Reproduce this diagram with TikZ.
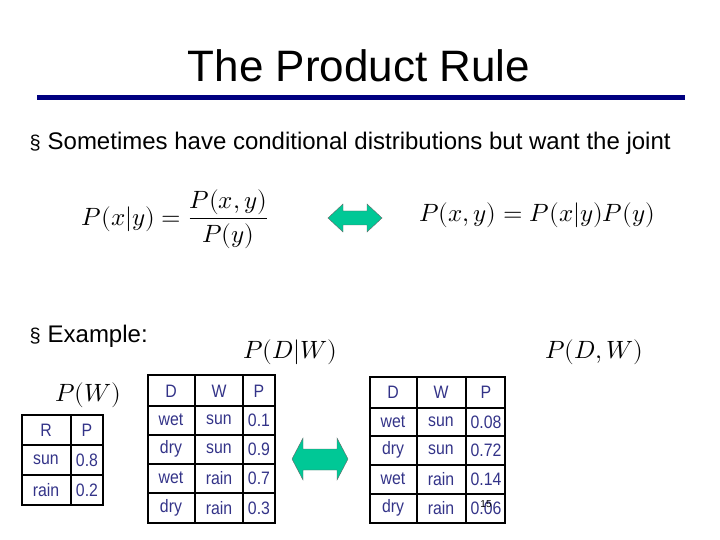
\documentclass[tikz,border=0pt]{standalone}
\usepackage{fontspec}
\setmainfont{Liberation Sans}
\usepackage{amsmath}
\usepackage{unicode-math}
\setmathfont{Latin Modern Math}
\definecolor{tblue}{HTML}{333388}
\definecolor{navy}{HTML}{000080}
\definecolor{teal}{HTML}{00C896}
\begin{document}
\begin{tikzpicture}[x=1pt,y=-1pt,
  cell/.style={font=\fontsize{18}{20}\selectfont, text=tblue, xscale=0.88, transform shape},
  grid/.style={line width=2pt,black},
  txt/.style={font=\fontsize{24}{28}\selectfont, anchor=west},
  mth/.style={font=\fontsize{25}{30}\selectfont}]
\useasboundingbox (0,0) rectangle (720,540);
\node (title) at (359,66) {\fontsize{44}{50}\selectfont The Product Rule};
\draw[navy,line width=5pt] (37,98) coordinate (l1) -- (685,98) coordinate (l2);
\node[txt] (b1) at (26,143) {\fontsize{20}{22}\selectfont§\hspace{7pt}\fontsize{24}{28}\selectfont Sometimes have conditional distributions but want the joint};
\node[mth] (f1) at (175,219) {$P(x|y)=\dfrac{P(x,y)}{P(y)}$};
\node[mth] (f2) at (537,215) {$P(x,y)=P(x|y)P(y)$};
\node[txt] (b2) at (26,336) {\fontsize{20}{22}\selectfont§\hspace{7pt}\fontsize{24}{28}\selectfont Example:};
\node[mth] (pdw) at (290,352) {$P(D|W)$};
\node[mth] (pdw2) at (594,352) {$P(D,W)$};
\node[mth] (pw) at (88,395) {$P(W)$};
% arrows
\fill[teal,draw=black!60,line width=0.4pt] (328,218) -- (343,204) -- (343,211) -- (367,211) -- (367,204) -- (382,218) -- (367,232) -- (367,225) -- (343,225) -- (343,232) -- cycle;
\fill[teal,draw=black!60,line width=0.4pt] (292,459) -- (303,438) -- (303,449) -- (337,449) -- (337,438) -- (348,459) -- (337,480) -- (337,470) -- (303,470) -- (303,480) -- cycle;
% table P(W)
\draw[grid] (22,415) rectangle (103,505);
\draw[grid] (71,415) -- (71,505) (22,445) -- (103,445) (22,475) -- (103,475);
\foreach \r/\y in {R/430,sun/460,rain/490} \node[cell] at (46,\y) {\r};
\foreach \r/\y in {P/430,0.8/460,0.2/490} \node[cell] at (87,\y) {\r};
% middle table
\draw[grid] (148,375) rectangle (275,523);
\draw[grid] (195,375) -- (195,523) (243,375) -- (243,523);
\foreach \y in {406,435,464,493} \draw[grid] (148,\y) -- (275,\y);
\foreach \a/\b/\c/\y in {D/W/P/391,wet/sun/0.1/420,dry/sun/0.9/449,wet/rain/0.7/478,dry/rain/0.3/508}
 {\node[cell] at (171,\y) {\a}; \node[cell] at (219,\y) {\b}; \node[cell] at (259,\y) {\c};}
% right table
\draw[grid] (370,377) rectangle (505,523);
\draw[grid] (417,377) -- (417,523) (466,377) -- (466,523);
\foreach \y in {408,436,465,494} \draw[grid] (370,\y) -- (505,\y);
\foreach \a/\b/\c/\y in {D/W/P/392,wet/sun/0.08/422,dry/sun/0.72/450,wet/rain/0.14/479,dry/rain/0.06/508}
 {\node[cell] at (393,\y) {\a}; \node[cell] at (441,\y) {\b}; \node[cell] at (486,\y) {\c};}
\node[font=\fontsize{10}{12}\selectfont] (pg) at (486,504) {15};
\end{tikzpicture}
\end{document}
